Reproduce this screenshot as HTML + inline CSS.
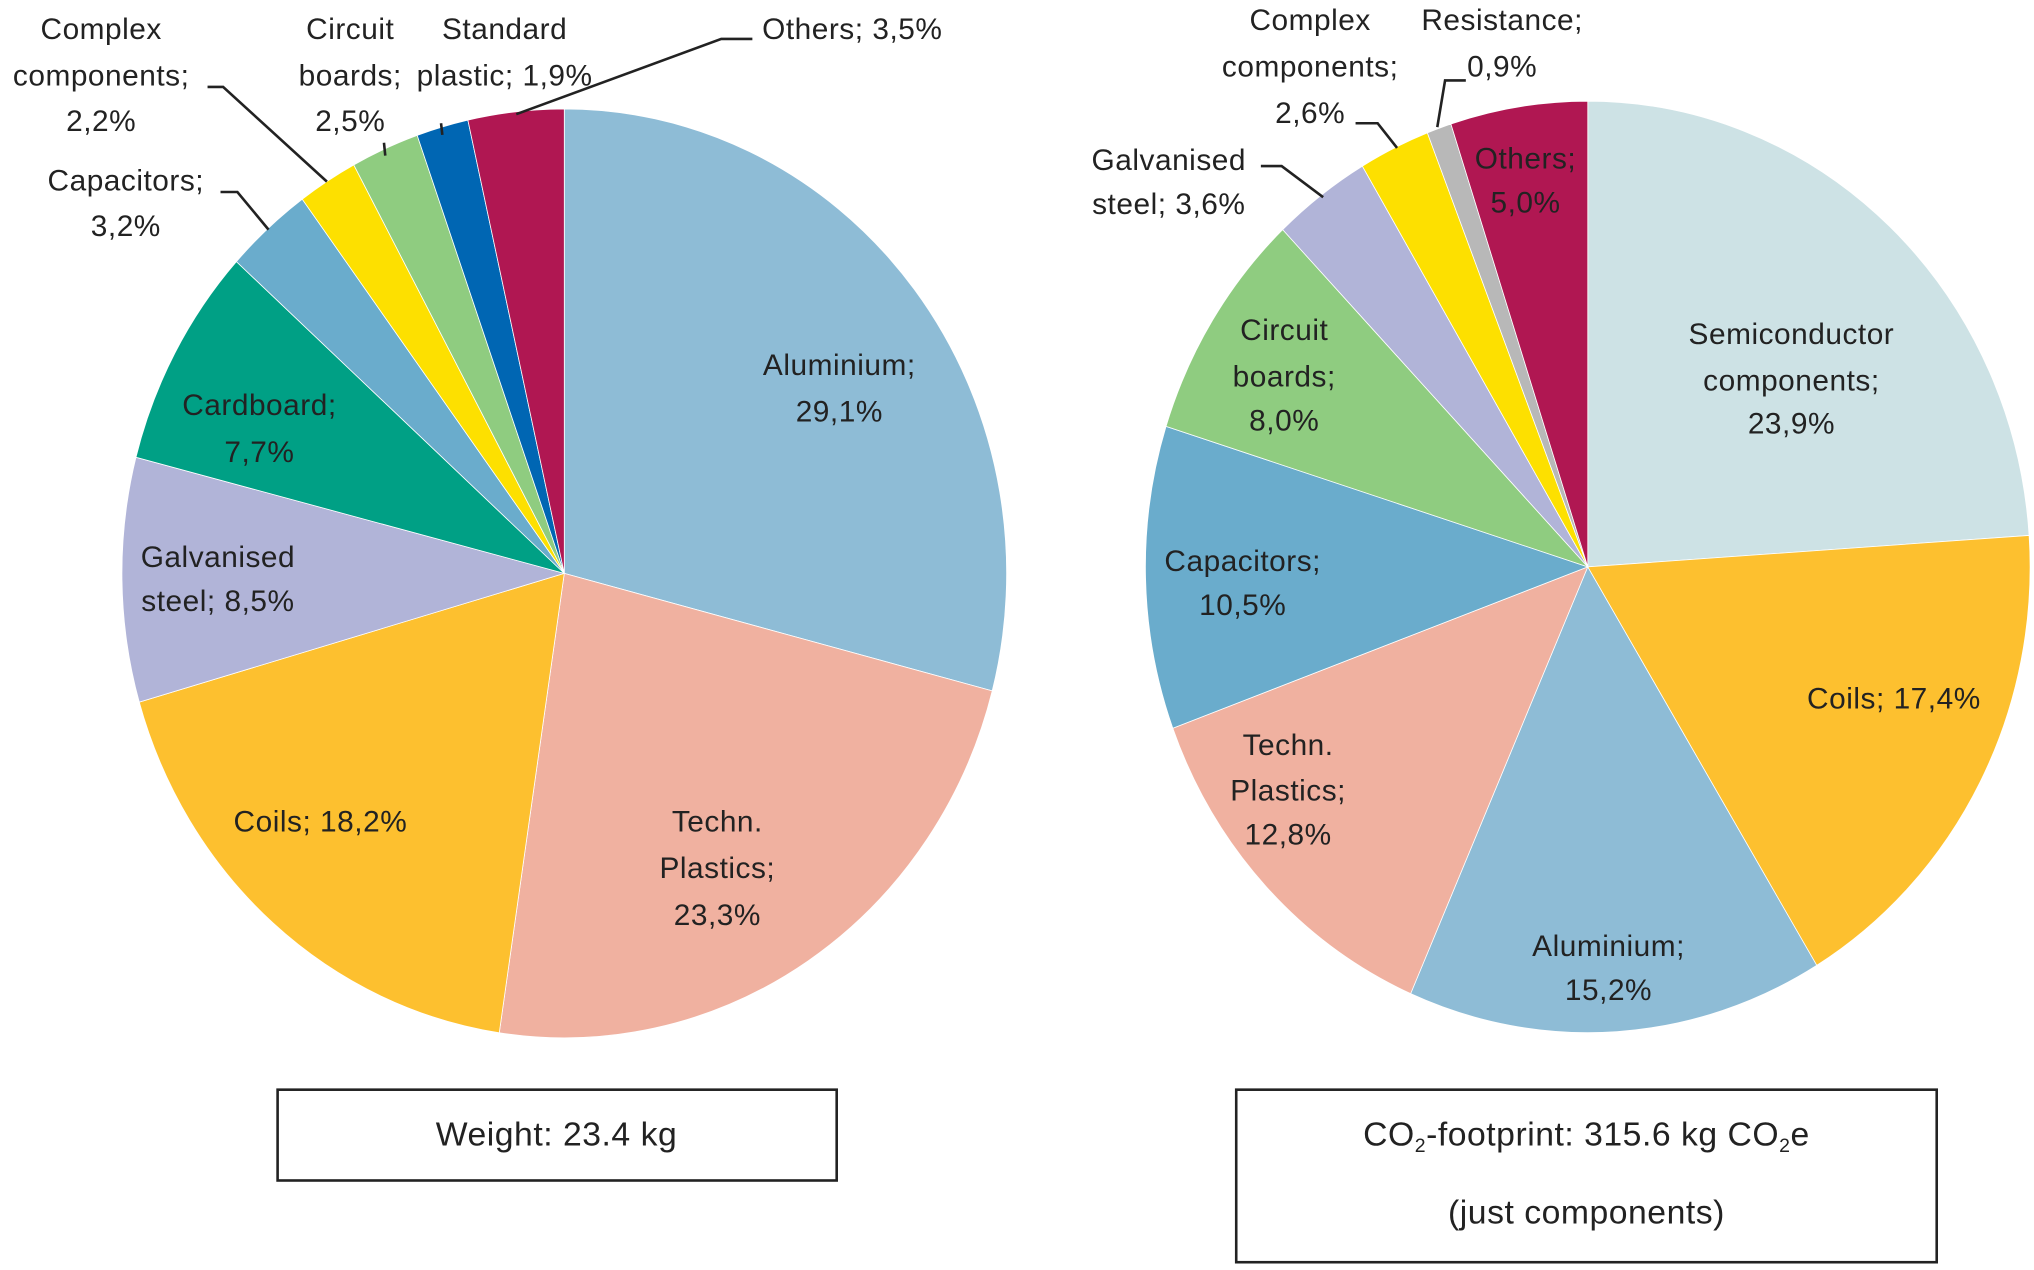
<!DOCTYPE html>
<html><head><meta charset="utf-8"><style>
html,body{margin:0;padding:0;background:#fff;}
svg{display:block;}
text{font-family:"Liberation Sans",sans-serif;font-size:23px;letter-spacing:0.4px;fill:#222;}
</style></head><body>
<svg id="chart" width="2034" height="1270" viewBox="0 0 1568 979" preserveAspectRatio="none">
<g id="left"></g>
<g id="right"></g>
<g stroke="#222" stroke-width="2" fill="none">
<polyline points="160,67 172,67 252,140"/>
<polyline points="170,148 183,148 207,177"/>
<line x1="296" y1="110" x2="297" y2="120"/>
<line x1="340" y1="95" x2="341" y2="104"/>
<polyline points="580,30 556,30 398,88"/>
<polyline points="1045,95 1062,95 1077,114"/>
<polyline points="1130,62 1114,62 1108,98"/>
<polyline points="972,128 988,128 1020,152"/>
</g>
<g text-anchor="middle">
<text x="78" y="30">Complex</text><text x="78" y="66">components;</text><text x="78" y="101">2,2%</text>
<text x="270" y="30">Circuit</text><text x="270" y="66">boards;</text><text x="270" y="101">2,5%</text>
<text x="389" y="30">Standard</text><text x="389" y="66">plastic; 1,9%</text>
<text x="657" y="30">Others; 3,5%</text>
<text x="97" y="147">Capacitors;</text><text x="97" y="182">3,2%</text>
<text x="647" y="289">Aluminium;</text><text x="647" y="325">29,1%</text>
<text x="200" y="320">Cardboard;</text><text x="200" y="356">7,7%</text>
<text x="168" y="437">Galvanised</text><text x="168" y="471">steel; 8,5%</text>
<text x="247" y="641">Coils; 18,2%</text>
<text x="553" y="641">Techn.</text><text x="553" y="677">Plastics;</text><text x="553" y="713">23,3%</text>
</g>
<g text-anchor="middle">
<text x="1010" y="23">Complex</text><text x="1010" y="59">components;</text><text x="1010" y="95">2,6%</text>
<text x="1158" y="23">Resistance;</text><text x="1158" y="59">0,9%</text>
<text x="901" y="131">Galvanised</text><text x="901" y="165">steel; 3,6%</text>
<text x="1176" y="130">Others;</text><text x="1176" y="164">5,0%</text>
<text x="1381" y="265">Semiconductor</text><text x="1381" y="301">components;</text><text x="1381" y="334">23,9%</text>
<text x="990" y="262">Circuit</text><text x="990" y="298">boards;</text><text x="990" y="332">8,0%</text>
<text x="958" y="440">Capacitors;</text><text x="958" y="474">10,5%</text>
<text x="1460" y="546">Coils; 17,4%</text>
<text x="993" y="582">Techn.</text><text x="993" y="617">Plastics;</text><text x="993" y="651">12,8%</text>
<text x="1240" y="737">Aluminium;</text><text x="1240" y="771">15,2%</text>
</g>
<g>
<rect x="214" y="840" width="431" height="70" fill="#fff" stroke="#222" stroke-width="2"/>
<text x="429" y="883" text-anchor="middle" style="font-size:26px">Weight: 23.4 kg</text>
</g>
<g>
<rect x="953" y="840" width="540" height="133" fill="#fff" stroke="#222" stroke-width="2"/>
<text x="1223" y="883" text-anchor="middle" style="font-size:26px">CO<tspan style="font-size:15px" dy="5">2</tspan><tspan dy="-5">-footprint: 315.6 kg CO</tspan><tspan style="font-size:15px" dy="5">2</tspan><tspan dy="-5">e</tspan></text>
<text x="1223" y="943" text-anchor="middle" style="font-size:26px">(just components)</text>
</g>
</svg>
<script>
const leftCategories=["Aluminium","Techn. Plastics","Coils","Galvanised steel","Cardboard","Capacitors","Complex components","Circuit boards","Standard plastic","Others"];
const leftValues=[29.1,23.3,18.2,8.5,7.7,3.2,2.2,2.5,1.9,3.5];
const leftColors=["#8ebcd6","#f0b1a0","#fdc02f","#b1b4d8","#00a085","#6aaccc","#fde000","#8fcc80","#0066b3","#b01752"];
const rightCategories=["Semiconductor components","Coils","Aluminium","Techn. Plastics","Capacitors","Circuit boards","Galvanised steel","Complex components","Resistance","Others"];
const rightValues=[23.9,17.4,15.2,12.8,10.5,8.0,3.6,2.6,0.9,5.0];
const rightColors=["#cde2e5","#fdc02f","#8ebcd6","#f0b1a0","#6aaccc","#8fcc80","#b1b4d8","#fde000","#b8b8b8","#b01752"];
const NS="http://www.w3.org/2000/svg";
function drawPie(gid,cats,vals,cols,cx,cy,rx,ry){
  const g=document.getElementById(gid);
  const total=vals.reduce((a,b)=>a+b,0);
  let acc=0;
  const pt=a=>[cx+rx*Math.sin(a),cy-ry*Math.cos(a)];
  vals.forEach((v,i)=>{
    const a0=acc/total*2*Math.PI; acc+=v; const a1=acc/total*2*Math.PI;
    const p0=pt(a0),p1=pt(a1);
    const large=(a1-a0)>Math.PI?1:0;
    const p=document.createElementNS(NS,"path");
    p.setAttribute("d",`M${cx},${cy} L${p0[0]},${p0[1]} A${rx},${ry} 0 ${large} 1 ${p1[0]},${p1[1]} Z`);
    p.setAttribute("fill",cols[i]);
    p.setAttribute("stroke","#fff");
    p.setAttribute("stroke-width","0.6");
    
    
    g.appendChild(p);
  });
}
drawPie("left",leftCategories,leftValues,leftColors,435,442,341,358);
drawPie("right",rightCategories,rightValues,rightColors,1224,437,341,359);
</script>
</body></html>
